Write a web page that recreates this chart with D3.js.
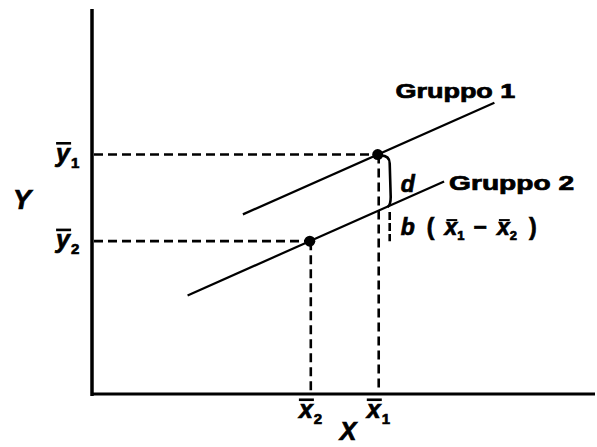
<!DOCTYPE html>
<html>
<head>
<meta charset="utf-8">
<script src="https://cdn.jsdelivr.net/npm/d3@7"></script>
<style>
  html, body { margin: 0; padding: 0; background: #fff; }
  svg { display: block; }
  text { font-family: "Liberation Sans", Arial, sans-serif; font-weight: bold; fill: #000; }
  text.heavy { stroke: #000; stroke-width: 0.7px; }
</style>
</head>
<body>
<svg id="chart" width="597" height="447"></svg>
<script>
// Two parallel regression lines (common slope b), one per group
const groups = ["Gruppo 1", "Gruppo 2"];
const meanX = [5.68, 4.33];          // x̄1, x̄2
const meanY = [6.22, 3.97];          // ȳ1, ȳ2
const slope = 0.58;                  // common slope b
const lineFrom = [3.0, 1.9];         // x where each line starts
const lineTo = [8.0, 7.0];           // x where each line ends
const meanXLabels = ["1", "2"];      // subscripts for x̄ marks
const meanYLabels = ["1", "2"];      // subscripts for ȳ marks

const svg = d3.select("#chart");
const x = d3.scaleLinear().domain([0, 10]).range([92, 595]);
const y = d3.scaleLinear().domain([0, 10]).range([394, 9]);

// Axes (no ticks)
svg.append("line").attr("x1", x(0)).attr("x2", x(0)).attr("y1", y(0) + 2).attr("y2", y(10))
  .attr("stroke", "#000").attr("stroke-width", 3.5);
svg.append("line").attr("x1", x(0)).attr("x2", x(10)).attr("y1", y(0)).attr("y2", y(0))
  .attr("stroke", "#000").attr("stroke-width", 3);

function dashed(x1, y1, x2, y2) {
  return svg.append("line").attr("x1", x1).attr("y1", y1).attr("x2", x2).attr("y2", y2)
    .attr("stroke", "#000").attr("stroke-width", 2.6).attr("stroke-dasharray", "9,5");
}

// Dashed guides from each mean point to the axes
groups.forEach((g, i) => {
  dashed(x(0) + 2, y(meanY[i]), x(meanX[i]), y(meanY[i]));
  dashed(x(meanX[i]) + 1, y(meanY[i]), x(meanX[i]) + 1, y(0) - 2);
});

// Regression lines
const lineGen = d3.line().x(d => x(d[0])).y(d => y(d[1]));
groups.forEach((g, i) => {
  const f = v => meanY[i] + slope * (v - meanX[i]);
  svg.append("path")
    .attr("d", lineGen([[lineFrom[i], f(lineFrom[i])], [lineTo[i], f(lineTo[i])]]))
    .attr("fill", "none").attr("stroke", "#000").attr("stroke-width", 2.2);
});

// Mean points
groups.forEach((g, i) => {
  svg.append("circle").attr("cx", x(meanX[i])).attr("cy", y(meanY[i])).attr("r", 5.5).attr("fill", "#000");
});

// Group labels next to the upper end of each line
groups.forEach((g, i) => {
  const f = v => meanY[i] + slope * (v - meanX[i]);
  const ex = x(lineTo[i]), ey = y(f(lineTo[i]));
  svg.append("text")
    .attr("class", "heavy")
    .attr("x", i === 0 ? ex - 99 : ex + 5)
    .attr("y", i === 0 ? ey - 5 : ey + 8)
    .attr("font-size", 20)
    .attr("textLength", i === 0 ? 120 : 125)
    .attr("lengthAdjust", "spacingAndGlyphs")
    .text(g);
});

// Brace between ȳ1 and the group-2 line at x̄1 (d), then b(x̄1 − x̄2) down to ȳ2
const bx = x(meanX[0]) + 11;
const yTop = y(meanY[0]);
const yMid = y(meanY[1] + slope * (meanX[0] - meanX[1]));
const yBot = y(meanY[1]);
const p = d3.path();
p.moveTo(x(meanX[0]) + 3, yTop + 1);
p.quadraticCurveTo(bx + 1, yTop + 1, bx + 1, yTop + 9);
p.lineTo(bx + 2, yMid - 14);
p.quadraticCurveTo(bx + 2, yMid - 6, bx - 1, yMid - 4);
svg.append("path").attr("d", p.toString()).attr("fill", "none")
  .attr("stroke", "#000").attr("stroke-width", 2.6);
svg.append("line").attr("x1", bx + 1).attr("x2", bx + 1).attr("y1", yMid + 1).attr("y2", yBot)
  .attr("stroke", "#000").attr("stroke-width", 2.6).attr("stroke-dasharray", "8,3");

svg.append("text").attr("class", "heavy").attr("x", bx + 12).attr("y", (yTop + yMid) / 2 + 9)
  .attr("font-size", 23).attr("font-style", "italic").text("d");

// b ( x̄1 − x̄2 )
const bt = svg.append("text").attr("class", "heavy").attr("x", bx + 12).attr("y", (yMid + yBot) / 2 + 9)
  .attr("font-size", 23).attr("font-style", "italic");
bt.append("tspan").text("b");
bt.append("tspan").attr("dx", 12).attr("font-style", "normal").text("(");
bt.append("tspan").attr("dx", 10).attr("class", "bar").text("x");
bt.append("tspan").attr("dy", 5).attr("font-size", 13).attr("font-style", "normal").text("1");
bt.append("tspan").attr("dy", -5).attr("dx", 9).attr("font-style", "normal").text("\u2212");
bt.append("tspan").attr("dx", 10).attr("class", "bar").text("x");
bt.append("tspan").attr("dy", 5).attr("font-size", 13).attr("font-style", "normal").text("2");
bt.append("tspan").attr("dy", -5).attr("dx", 12).attr("font-style", "normal").text(")");

// bars over the x characters inside the b(...) label
const btNode = bt.node();
let charIdx = 0;
bt.selectAll("tspan").each(function () {
  const n = this.textContent.length;
  if (this.getAttribute("class") === "bar") {
    const ext = btNode.getExtentOfChar(charIdx);
    svg.append("line").attr("x1", ext.x + 2).attr("x2", ext.x + ext.width)
      .attr("y1", ext.y + 6).attr("y2", ext.y + 6).attr("stroke", "#000").attr("stroke-width", 2);
  }
  charIdx += n;
});

// Barred symbol with subscript (ȳ1, x̄2, ...)
function barred(letter, sub, cx, baseline, size) {
  const t = svg.append("text").attr("class", "heavy").attr("x", cx).attr("y", baseline)
    .attr("font-size", size).attr("font-style", "italic").attr("text-anchor", "end").text(letter);
  const bb = t.node().getBBox();
  svg.append("text").attr("class", "heavy").attr("x", cx + 1).attr("y", baseline + 6)
    .attr("font-size", size * 0.6).text(sub);
  const top = baseline - size * 0.53 - 5;
  svg.append("line").attr("x1", bb.x + 2).attr("x2", bb.x + bb.width)
    .attr("y1", top).attr("y2", top).attr("stroke", "#000").attr("stroke-width", 2.6);
}

meanYLabels.forEach((s, i) => barred("y", s, 70, y(meanY[i]) + 7, 25));
meanXLabels.forEach((s, i) => barred("x", s, x(meanX[i]) + 3, 418, 25));

// Axis titles
svg.append("text").attr("class", "heavy").attr("x", 22).attr("y", 209).attr("font-size", 27)
  .attr("font-style", "italic").attr("text-anchor", "middle").text("Y");
svg.append("text").attr("class", "heavy").attr("x", 348).attr("y", 440).attr("font-size", 25)
  .attr("font-style", "italic").attr("text-anchor", "middle").text("X");
</script>
</body>
</html>
